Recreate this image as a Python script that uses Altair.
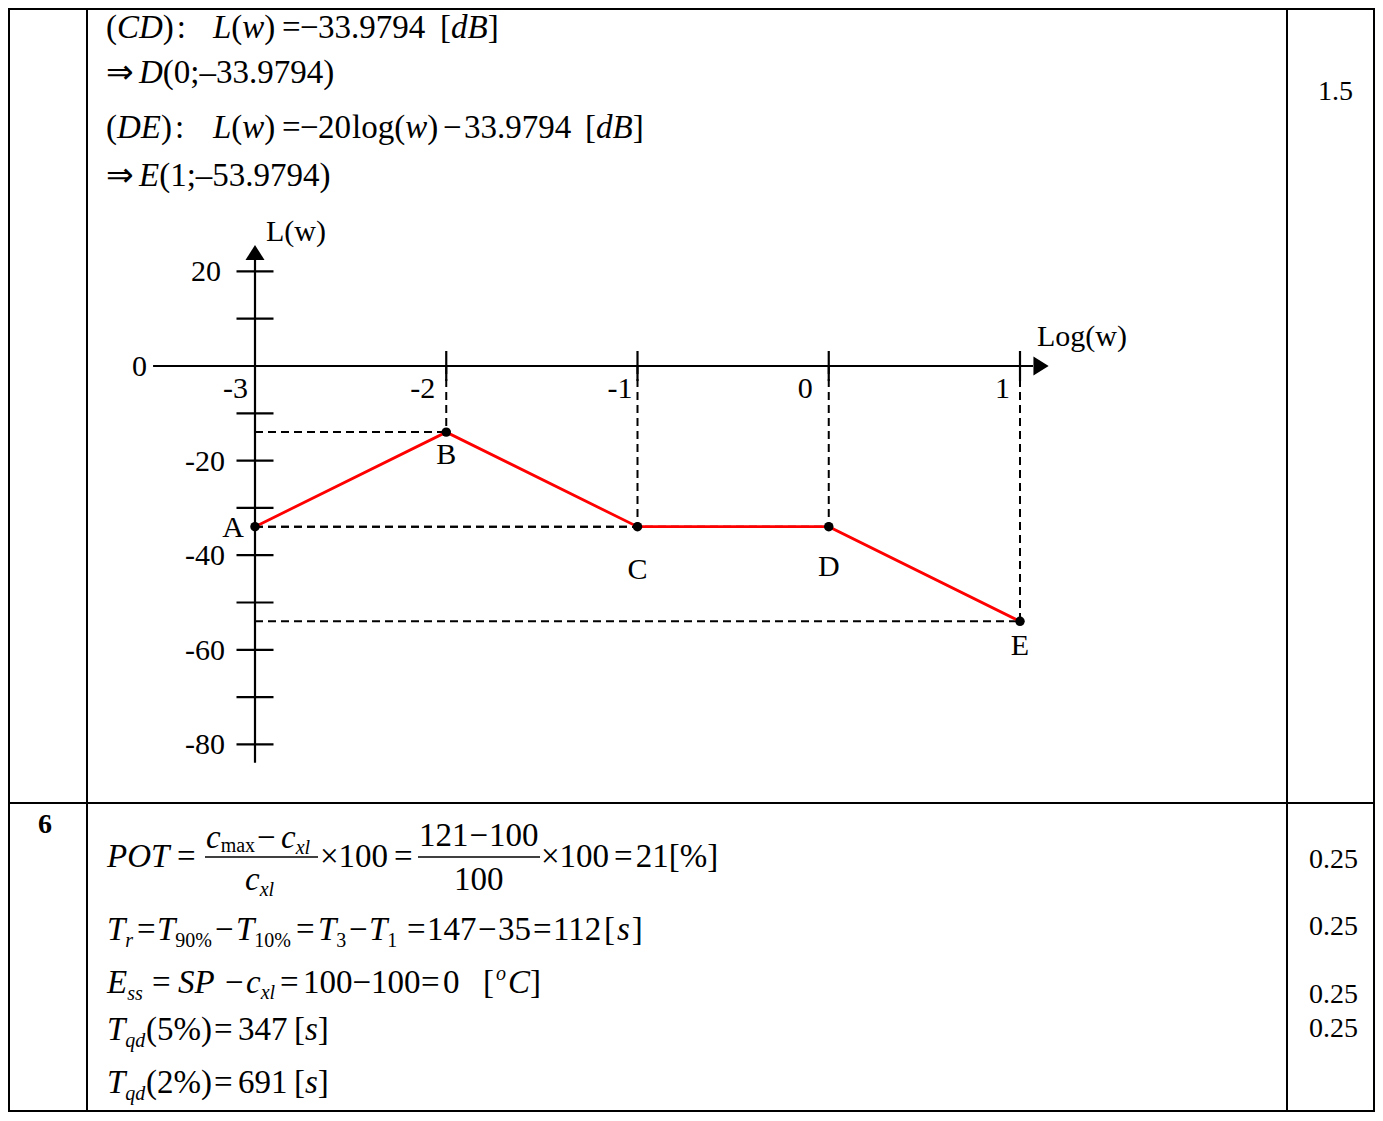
import altair as alt
import pandas as pd

# ---------------- data ----------------
point_names = ["A", "B", "C", "D", "E"]
log_w = [-3, -2, -1, 0, 1]
L_dB = [-33.9794, -13.9794, -33.9794, -33.9794, -53.9794]

y_tick_values = [20, 10, -10, -20, -30, -40, -50, -60, -70, -80]
y_label_values = [20, -20, -40, -60, -80]
y_label_texts = ["20", "-20", "-40", "-60", "-80"]
x_tick_values = [-2, -1, 0, 1]
x_label_values = [-3, -2, -1, 0, 1]
x_label_texts = ["-3", "-2", "-1", "0", "1"]
zero_label = ["0"]
y_axis_extent = [-83.9, 22.4]      # L(w) range drawn by the vertical axis
x_axis_extent = [-3.533, 1.068]    # log(w) range drawn by the horizontal axis
score_top = ["1.5"]
score_bottom = ["0.25", "0.25", "0.25", "0.25"]
question_no = ["6"]

# ---------------- layout ----------------
W, H = 1367, 1104
OFF = 8
PXX = 191.25          # px per decade
X0 = 255 - OFF        # chart px of log(w) = -3
PXY = 4.73            # px per dB
Y0 = 366 - OFF        # chart px of L = 0
xdom = [-3 - X0 / PXX, -3 + (W - X0) / PXX]
ydom = [(Y0 - H) / PXY, Y0 / PXY]
FONT = "Liberation Serif"
S, SUB, CH = 33, 20, 30

ROMAN = {'(': 333, ')': 333, ':': 278, ';': 278, '=': 564, '−': 564, '–': 500,
         '×': 564, '.': 250, '[': 333, ']': 333, '%': 833, ' ': 250, 'l': 278,
         'o': 500, 'g': 500, 'm': 778, 'a': 444, 'x': 500, '⇒': 1000, 'L': 611, 'w': 722}
ITALIC = {'C': 667, 'D': 722, 'L': 556, 'w': 667, 'd': 500, 'B': 611, 'E': 611,
          'P': 611, 'O': 722, 'T': 556, 'c': 444, 'x': 444, 'l': 278, 'r': 389,
          's': 389, 'q': 500, 'S': 500, 'o': 500}


def width(t, st, size):
    tab = ROMAN if st == 'r' else ITALIC
    return sum(tab.get(ch, 500) for ch in t) * size / 1000.0


def R(t, gap=0, at=None, size=S, dy=0):
    return (t, 'r', gap, at, size, dy)


def I(t, gap=0, at=None, size=S, dy=0):
    return (t, 'i', gap, at, size, dy)


def lay(runs, base):
    x = 0
    out = []
    for t, st, gap, at, size, dy in runs:
        if at is not None:
            x = at
        x += gap
        out.append(dict(t=t, st=st, px=x - OFF, py=base + dy - OFF, fs=size))
        x += width(t, st, size)
    return out


lines = [
    ([R("(", at=106), I("CD"), R(")"), R(":", gap=3), I("L", at=213), R("("), I("w"), R(")"),
      R("=", at=282), R("−", at=300), R("33.9794", at=318), R("[", at=440), I("dB"), R("]")], 38),
    ([R("⇒", at=106), I("D", at=139), R("(0;"), R("–"), R("33.9794)")], 83),
    ([R("(", at=106), I("DE"), R(")"), R(":", gap=3), I("L", at=213), R("("), I("w"), R(")"),
      R("=", at=282), R("−", at=300), R("20", at=318), R("log", gap=1), R("("), I("w"), R(")"),
      R("−", at=443), R("33.9794", at=464), R("[", at=585), I("dB"), R("]")], 138),
    ([R("⇒", at=106), I("E", at=139), R("(1;"), R("–"), R("53.9794)")], 186),
    # POT
    ([I("POT", at=107), R("=", at=177), R("×", at=320), R("100"), R("=", gap=6),
      R("×", at=541), R("100"), R("=", gap=5), R("21", gap=3), R("["), R("%"), R("]")], 867),
    ([I("c", at=206), R("max", size=SUB, dy=4), R("−", at=257), I("c", at=281),
      I("xl", size=SUB, dy=6)], 848),
    ([I("c", at=245), I("xl", size=SUB, dy=6)], 890),
    ([R("121", at=419), R("−", gap=1), R("100", gap=1)], 846),
    ([R("100", at=454)], 890),
    # Tr
    ([I("T", at=107), I("r", size=SUB, dy=7), R("=", at=137), I("T", at=157),
      R("90%", size=SUB, dy=7), R("−", at=215), I("T", at=236), R("10%", size=SUB, dy=7),
      R("=", at=296), I("T", at=318), R("3", size=SUB, dy=7), R("−", at=349), I("T", at=369),
      R("1", size=SUB, dy=7), R("=", at=407), R("147", at=427), R("−", at=478), R("35", at=498),
      R("=", at=533), R("112", at=553), R("[", at=604), I("s", gap=2), R("]", gap=2)], 940),
    # Ess
    ([I("E", at=107), I("ss", size=SUB, dy=7), R("=", at=152), I("SP", at=178), R("−", at=225),
      I("c", at=246), I("xl", size=SUB, dy=6), R("=", at=280), R("100", at=303), R("−"), R("100"),
      R("=", at=421), R("0", at=443), R("[", at=483), I("o", size=SUB, dy=-13, gap=2),
      I("C", at=508), R("]")], 993),
    # Tqd
    ([I("T", at=107), I("qd", size=SUB, dy=7), R("(5%)", at=146), R("=", at=214),
      R("347", at=238), R("[", at=294), I("s"), R("]")], 1040),
    ([I("T", at=107), I("qd", size=SUB, dy=7), R("(2%)", at=146), R("=", at=214),
      R("691", at=238), R("[", at=294), I("s"), R("]")], 1093),
]

segs = []
for runs, base in lines:
    segs += lay(runs, base)
# chart titles and right column
segs += lay([R("L(w)", at=266, size=CH)], 241)
segs += lay([R("Log(w)", at=1037, size=CH)], 346)
segs += lay([R(score_top[0], at=1318, size=28)], 100)
for txt, base in zip(score_bottom, [868, 935, 1003, 1037]):
    segs += lay([R(txt, at=1309, size=28)], base)

roman_df = pd.DataFrame([s for s in segs if s['st'] == 'r'])
italic_df = pd.DataFrame([s for s in segs if s['st'] == 'i'])
bold_df = pd.DataFrame(lay([R(question_no[0], at=38, size=28)], 833))

# table lines and fraction bars (chart px)
table_df = pd.DataFrame(dict(
    x1=[0, 0, 1, W - 1, 79, 1279, 0],
    x2=[W, W, 1, W - 1, 79, 1279, W],
    y1=[1, H - 1, 0, 0, 0, 0, 795],
    y2=[1, H - 1, H, H, H, H, 795]))
bars_df = pd.DataFrame(dict(x1=[205 - OFF, 418 - OFF], x2=[318 - OFF, 540 - OFF],
                            y1=[857 - OFF, 857 - OFF], y2=[857 - OFF, 857 - OFF]))


def px_text(df, **kw):
    return alt.Chart(df).mark_text(font=FONT, align='left', baseline='alphabetic',
                                   color='black', **kw).encode(
        x=alt.X('px:Q', scale=None, axis=None),
        y=alt.Y('py:Q', scale=None, axis=None),
        text='t:N',
        size=alt.Size('fs:Q', scale=None, legend=None))


def px_rules(df, sw):
    return alt.Chart(df).mark_rule(color='black', strokeWidth=sw).encode(
        x=alt.X('x1:Q', scale=None, axis=None), x2='x2:Q',
        y=alt.Y('y1:Q', scale=None, axis=None), y2='y2:Q')


# ---------------- chart in data units ----------------
xs = alt.Scale(domain=xdom, nice=False, zero=False)
ys = alt.Scale(domain=ydom, nice=False, zero=False)


def XX(f):
    return alt.X(f, scale=xs, axis=None)


def YY(f):
    return alt.Y(f, scale=ys, axis=None)


pts = pd.DataFrame(dict(name=point_names, x=log_w, y=L_dB))

# dashed guide lines from each corner point to the axes
guides = []
for nm, xv, yv in zip(point_names[1:], log_w[1:], L_dB[1:]):
    guides.append(dict(x1=xv, x2=xv, y1=0, y2=yv))
    guides.append(dict(x1=-3, x2=xv, y1=yv, y2=yv))
guides_df = pd.DataFrame(guides)

axes_df = pd.DataFrame(dict(
    x1=[-3, x_axis_extent[0]], x2=[-3, x_axis_extent[1]],
    y1=[y_axis_extent[0], 0], y2=[y_axis_extent[1], 0]))

TXH = 18.5 / PXX     # half length of y ticks (data units)
TYH = 15 / PXY       # half length of x ticks
yt_df = pd.DataFrame(dict(x1=[-3 - TXH] * len(y_tick_values), x2=[-3 + TXH] * len(y_tick_values),
                          y1=y_tick_values, y2=y_tick_values))
xt_df = pd.DataFrame(dict(x1=x_tick_values, x2=x_tick_values,
                          y1=[TYH] * len(x_tick_values), y2=[-TYH] * len(x_tick_values)))
ticks_df = pd.concat([yt_df, xt_df], ignore_index=True)

ylab_df = pd.DataFrame(dict(t=y_label_texts, x=[-3 - 30 / PXX] * len(y_label_texts),
                            y=[v - 10 / PXY for v in y_label_values]))
ylab_df.loc[0, 'x'] = -3 - 34 / PXX
zlab_df = pd.DataFrame(dict(t=zero_label, x=[-3 - 108 / PXX], y=[-10 / PXY]))
x_label_dx = [-7, -11, -5, -16, -10]
xlab_df = pd.DataFrame(dict(t=x_label_texts,
                            x=[v + d / PXX for v, d in zip(x_label_values, x_label_dx)],
                            y=[-32 / PXY] * len(x_label_texts)))

pl_dy = [10, 32, 52, 49, 34]
plab = pd.DataFrame(dict(t=point_names,
                         x=[log_w[0] - 11 / PXX] + log_w[1:],
                         y=[v - d / PXY for v, d in zip(L_dB, pl_dy)]))

arrows_up = pd.DataFrame(dict(x=[-3], y=[24.0]))
arrows_right = pd.DataFrame(dict(x=[1.110], y=[0]))


def data_rules(df, sw, dash=None, color='black'):
    kw = dict(color=color, strokeWidth=sw)
    if dash:
        kw['strokeDash'] = dash
    return alt.Chart(df).mark_rule(**kw).encode(
        x=XX('x1:Q'), x2='x2:Q', y=YY('y1:Q'), y2='y2:Q')


def data_text(df, align):
    return alt.Chart(df).mark_text(font=FONT, fontSize=CH, align=align,
                                   baseline='alphabetic', color='black').encode(
        x=XX('x:Q'), y=YY('y:Q'), text='t:N')


layers = [
    px_rules(table_df, 2),
    px_rules(bars_df, 1.5),
    px_text(roman_df),
    px_text(italic_df, fontStyle='italic'),
    px_text(bold_df, fontWeight='bold'),
    data_rules(guides_df, 2, dash=[8, 5]),
    data_rules(axes_df, 2.2),
    data_rules(ticks_df, 2.2),
    alt.Chart(arrows_up).mark_point(shape="M-1,0.8L0,-0.8L1,0.8Z", size=361, filled=True,
                                    color='black', opacity=1, strokeWidth=0).encode(
        x=XX('x:Q'), y=YY('y:Q')),
    alt.Chart(arrows_right).mark_point(shape="M-0.8,-1L0.8,0L-0.8,1Z", size=361, filled=True,
                                       color='black', opacity=1, strokeWidth=0).encode(
        x=XX('x:Q'), y=YY('y:Q')),
    alt.Chart(pts).mark_line(color='#ff0000', strokeWidth=2.8).encode(
        x=XX('x:Q'), y=YY('y:Q'), order='x:Q'),
    alt.Chart(pts).mark_circle(size=90, color='black', opacity=1).encode(
        x=XX('x:Q'), y=YY('y:Q')),
    data_text(ylab_df, 'right'),
    data_text(zlab_df, 'right'),
    data_text(xlab_df, 'right'),
    data_text(plab.iloc[[0]], 'right'),
    data_text(plab.iloc[1:], 'center'),
]

chart = alt.layer(*layers).properties(
    width=W, height=H, padding=0,
    autosize=alt.AutoSizeParams(type='none'),
    background='white'
).configure_view(stroke=None)

chart.save("out.html", embed_options={"renderer": "svg", "actions": False})
